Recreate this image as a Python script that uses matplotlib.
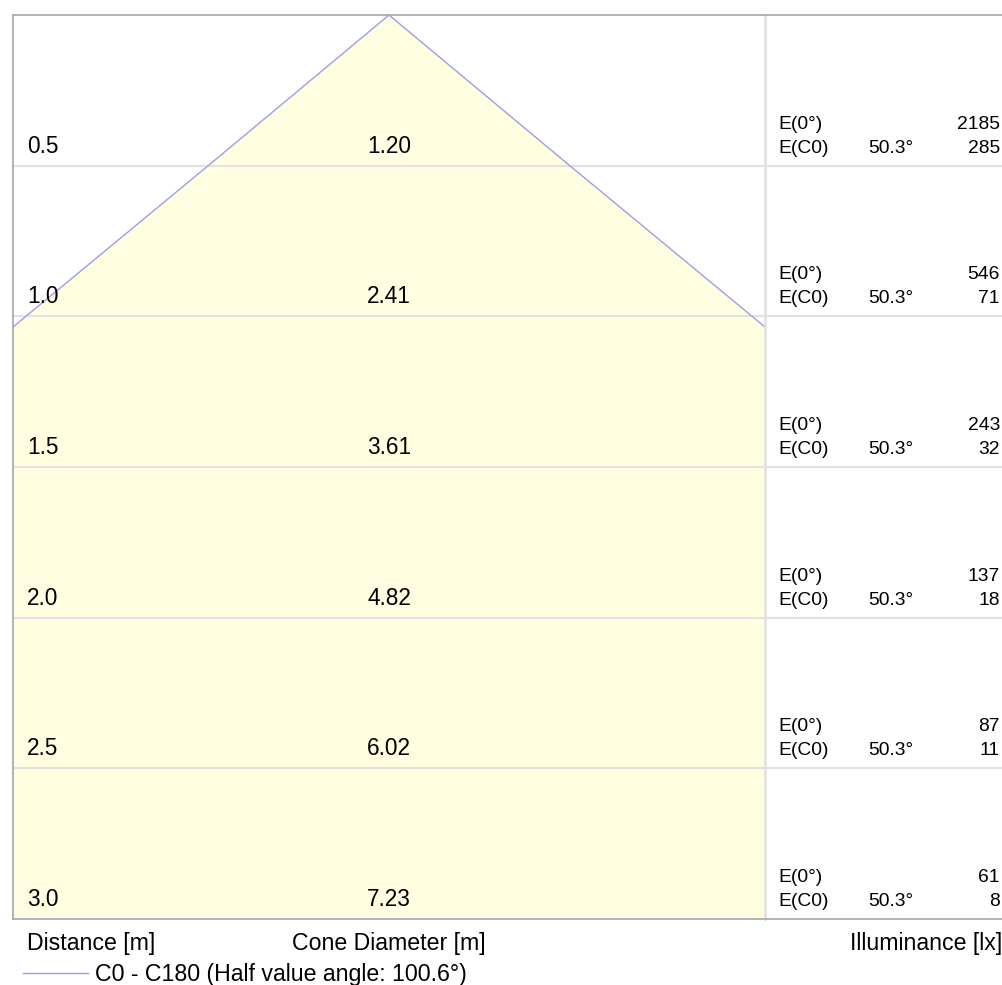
import numpy as np
import matplotlib.pyplot as plt

plt.rcParams['font.family'] = ['Liberation Sans', 'DejaVu Sans']

distances = [0.5, 1.0, 1.5, 2.0, 2.5, 3.0]
cone_diam = [1.20, 2.41, 3.61, 4.82, 6.02, 7.23]
e_center = [2185, 546, 243, 137, 87, 61]
e_c0 = [285, 71, 32, 18, 11, 8]
half_angle = '50.3°'
legend_label = 'C0 - C180 (Half value angle: 100.6°)'

W, H = 1003, 985
fig = plt.figure(figsize=(W / 100, H / 100), dpi=100)

line_col = '#9d9df0'
fill_col = '#fffee0'
grid_col = '#e2e2e2'
frame_col = '#a6a6a6'

top, bottom = 15, 919
left, mid, right = 13, 765, 1003
px_per_m = (bottom - top) / 3.0


def frac(x, y):
    return x / W, 1 - y / H


ax = fig.add_axes([left / W, 1 - bottom / H, (mid - left) / W, (bottom - top) / H])
ax2 = fig.add_axes([mid / W, 1 - bottom / H, (right - mid) / W, (bottom - top) / H])

half_w = (mid - left) / 2 / px_per_m
ax.set_xlim(-half_w, half_w)
for a in (ax, ax2):
    a.set_ylim(3.0, 0)
    a.set_xticks([])
    a.set_yticks([])

# cone
d = np.array([0] + distances)
r = np.array([0] + cone_diam) / 2
ax.fill_betweenx(d, -r, r, color=fill_col, lw=0, zorder=1)
ax.plot(-r, d, color=line_col, lw=1, zorder=3)
ax.plot(r, d, color=line_col, lw=1, zorder=3)

for a in (ax, ax2):
    for dist in distances[:-1]:
        a.axhline(dist, color=grid_col, lw=1.5, zorder=2)

# frame
for a in (ax, ax2):
    for s in a.spines.values():
        s.set_color(frame_col)
        s.set_linewidth(1.2)
ax.spines['right'].set_visible(False)
ax2.spines['right'].set_visible(False)
ax2.spines['left'].set_color(grid_col)
ax2.spines['left'].set_linewidth(2)

big, small = 16.3, 13.9
lbl_off = 13 / px_per_m
e0_off = 37 / px_per_m
for dist, dia, e0, ec in zip(distances, cone_diam, e_center, e_c0):
    ax.text((27 - left) / (mid - left), dist - lbl_off, f'{dist:.1f}',
            transform=ax.get_yaxis_transform(), fontsize=big, va='baseline')
    ax.text(0, dist - lbl_off, f'{dia:.2f}', fontsize=big, ha='center', va='baseline')
    tr = ax2.get_yaxis_transform()
    ax2.text((778 - mid) / (right - mid), dist - e0_off, 'E(0°)', transform=tr,
             fontsize=small, va='baseline')
    ax2.text((778 - mid) / (right - mid), dist - lbl_off, 'E(C0)', transform=tr,
             fontsize=small, va='baseline')
    ax2.text((868 - mid) / (right - mid), dist - lbl_off, half_angle, transform=tr,
             fontsize=small, va='baseline')
    ax2.text((1000 - mid) / (right - mid), dist - e0_off, str(e0), transform=tr,
             fontsize=small, va='baseline', ha='right')
    ax2.text((1000 - mid) / (right - mid), dist - lbl_off, str(ec), transform=tr,
             fontsize=small, va='baseline', ha='right')

fig.text(*frac(27, 950), 'Distance [m]', fontsize=16.7, va='baseline')
fig.text(*frac(389, 950), 'Cone Diameter [m]', fontsize=16.7, va='baseline', ha='center')
fig.text(*frac(1002, 950), 'Illuminance [lx]', fontsize=16.7, va='baseline', ha='right')

fig.add_artist(plt.Line2D([23 / W, 88 / W], [1 - 973 / H] * 2, color=line_col, lw=1))
fig.text(*frac(95, 980.5), legend_label, fontsize=16.7, va='baseline')

fig.savefig('out.png', dpi=100)
